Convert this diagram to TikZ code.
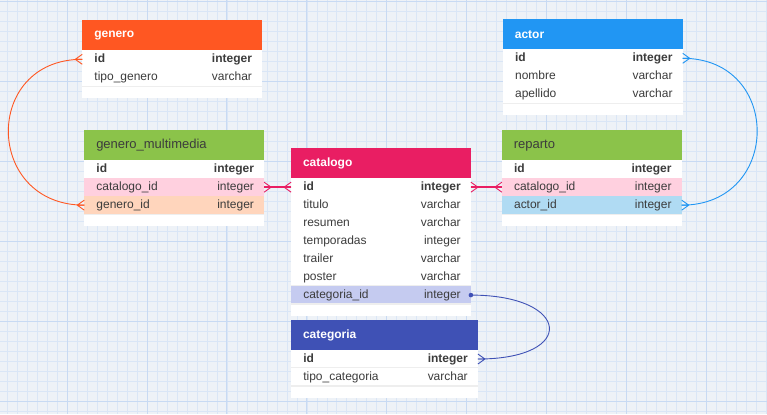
\documentclass[tikz,border=0pt]{standalone}
\usepackage{fontspec}
\setmainfont{Liberation Sans}
\usetikzlibrary{positioning}
\definecolor{gridbg}{RGB}{238,242,247}
\definecolor{gridminor}{RGB}{218,230,246}
\definecolor{gridmajor}{RGB}{200,218,243}
\definecolor{generoC}{RGB}{255,87,34}
\definecolor{generoL}{RGB}{255,213,188}
\definecolor{actorC}{RGB}{33,150,243}
\definecolor{actorL}{RGB}{176,219,243}
\definecolor{linkC}{RGB}{139,195,74}
\definecolor{catalogoC}{RGB}{233,30,99}
\definecolor{catalogoL}{RGB}{255,208,223}
\definecolor{categoriaC}{RGB}{63,81,181}
\definecolor{categoriaL}{RGB}{197,203,240}
\definecolor{fieldtxt}{RGB}{60,60,60}
\definecolor{sepC}{RGB}{238,238,238}

\tikzset{
  crowfoot/.pic={\draw[line width=0.9pt] (-7,0) -- (0,-5) (-7,0) -- (0,0) (-7,0) -- (0,5);}
}

\begin{document}
\begin{tikzpicture}[x=1pt, y=-1pt,
  hdr/.style={anchor=north west, text width=#1, align=left, inner xsep=12pt, inner ysep=0pt,
    minimum height=30pt, outer sep=0pt},
  hdrwhite/.style={text=white, font=\bfseries\fontsize{12}{14}\selectfont},
  hdrdark/.style={text=fieldtxt, font=\fontsize{13}{15}\selectfont},
  rowbox/.style={anchor=north west, minimum width=#1, minimum height=18pt, inner sep=0pt, outer sep=0pt},
  fname/.style={inner sep=0pt, text height=8.6pt, text depth=2.6pt, text=fieldtxt, font=\fontsize{12}{14}\selectfont},
  rowsep/.style={sepC, line width=1.2pt},
  link/.style={line width=0.9pt}]
  % background grid
  \fill[gridbg] (0,0) rectangle (767,414);
  \foreach \k in {0,...,76} \draw[gridminor, line width=0.5pt] ({\k*10+6.7},0) -- ({\k*10+6.7},414);
  \foreach \k in {0,...,41} \draw[gridminor, line width=0.5pt] (0,{\k*10+1}) -- (767,{\k*10+1});
  \foreach \k in {0,...,8} \draw[gridmajor, line width=0.7pt] ({\k*80+66.7},0) -- ({\k*80+66.7},414);
  \foreach \k in {0,...,5} \draw[gridmajor, line width=0.7pt] (0,{\k*80+1}) -- (767,{\k*80+1});
  \useasboundingbox (0,0) rectangle (767,414);

  % genero
  \node[hdr=156pt, fill=generoC, hdrwhite] (gen) at (82,20) {genero};
  \fill[white] (gen.south west) rectangle ++(180,48);
  \foreach \fld/\typ/\bg [count=\i] in {id/integer/white, tipo\_genero/varchar/white} {
    \node[rowbox=180pt, fill=\bg] (gen-\i) at ([yshift={-(\i-1)*18pt}]gen.south west) {};
    \draw[rowsep] (gen-\i.south west) -- (gen-\i.south east);
    \node[fname, right=12pt of gen-\i.west] (gen-\i-n) {\ifnum\i=1\bfseries\fi\fld};
    \node[fname, left=10pt of gen-\i.east] (gen-\i-t) {\ifnum\i=1\bfseries\fi\typ};
  }

  % genero_multimedia
  \node[hdr=156pt, fill=linkC, hdrdark] (gm) at (84,130) {genero\_multimedia};
  \fill[white] (gm.south west) rectangle ++(180,66);
  \foreach \fld/\typ/\bg [count=\i] in {id/integer/white, catalogo\_id/integer/catalogoL, genero\_id/integer/generoL} {
    \node[rowbox=180pt, fill=\bg] (gm-\i) at ([yshift={-(\i-1)*18pt}]gm.south west) {};
    \draw[rowsep] (gm-\i.south west) -- (gm-\i.south east);
    \node[fname, right=12pt of gm-\i.west] (gm-\i-n) {\ifnum\i=1\bfseries\fi\fld};
    \node[fname, left=10pt of gm-\i.east] (gm-\i-t) {\ifnum\i=1\bfseries\fi\typ};
  }

  % catalogo
  \node[hdr=156pt, fill=catalogoC, hdrwhite] (cat) at (291,148) {catalogo};
  \fill[white] (cat.south west) rectangle ++(180,138);
  \foreach \fld/\typ/\bg [count=\i] in {id/integer/white, titulo/varchar/white, resumen/varchar/white,
      temporadas/integer/white, trailer/varchar/white, poster/varchar/white, categoria\_id/integer/categoriaL} {
    \node[rowbox=180pt, fill=\bg] (cat-\i) at ([yshift={-(\i-1)*18pt}]cat.south west) {};
    \draw[rowsep] (cat-\i.south west) -- (cat-\i.south east);
    \node[fname, right=12pt of cat-\i.west] (cat-\i-n) {\ifnum\i=1\bfseries\fi\fld};
    \node[fname, left=10pt of cat-\i.east] (cat-\i-t) {\ifnum\i=1\bfseries\fi\typ};
  }

  % categoria
  \node[hdr=163pt, fill=categoriaC, hdrwhite] (ctg) at (291,320) {categoria};
  \fill[white] (ctg.south west) rectangle ++(187,48);
  \foreach \fld/\typ/\bg [count=\i] in {id/integer/white, tipo\_categoria/varchar/white} {
    \node[rowbox=187pt, fill=\bg] (ctg-\i) at ([yshift={-(\i-1)*18pt}]ctg.south west) {};
    \draw[rowsep] (ctg-\i.south west) -- (ctg-\i.south east);
    \node[fname, right=12pt of ctg-\i.west] (ctg-\i-n) {\ifnum\i=1\bfseries\fi\fld};
    \node[fname, left=10pt of ctg-\i.east] (ctg-\i-t) {\ifnum\i=1\bfseries\fi\typ};
  }

  % actor
  \node[hdr=156pt, fill=actorC, hdrwhite] (act) at (503,19) {actor};
  \fill[white] (act.south west) rectangle ++(180,66);
  \foreach \fld/\typ/\bg [count=\i] in {id/integer/white, nombre/varchar/white, apellido/varchar/white} {
    \node[rowbox=180pt, fill=\bg] (act-\i) at ([yshift={-(\i-1)*18pt}]act.south west) {};
    \draw[rowsep] (act-\i.south west) -- (act-\i.south east);
    \node[fname, right=12pt of act-\i.west] (act-\i-n) {\ifnum\i=1\bfseries\fi\fld};
    \node[fname, left=10pt of act-\i.east] (act-\i-t) {\ifnum\i=1\bfseries\fi\typ};
  }

  % reparto
  \node[hdr=156pt, fill=linkC, hdrdark] (rep) at (502,130) {reparto};
  \fill[white] (rep.south west) rectangle ++(180,66);
  \foreach \fld/\typ/\bg [count=\i] in {id/integer/white, catalogo\_id/integer/catalogoL, actor\_id/integer/actorL} {
    \node[rowbox=180pt, fill=\bg] (rep-\i) at ([yshift={-(\i-1)*18pt}]rep.south west) {};
    \draw[rowsep] (rep-\i.south west) -- (rep-\i.south east);
    \node[fname, right=12pt of rep-\i.west] (rep-\i-n) {\ifnum\i=1\bfseries\fi\fld};
    \node[fname, left=10pt of rep-\i.east] (rep-\i-t) {\ifnum\i=1\bfseries\fi\typ};
  }

  % relations
  \draw[link, generoC] (gen-1.west) .. controls +(-100,0) and +(-100,0) .. (gm-3.west);
  \pic[color=generoC] at (gen-1.west) {crowfoot};
  \pic[color=generoC] at (gm-3.west) {crowfoot};

  \draw[link, actorC] (act-1.east) .. controls +(100,0) and +(100,0) .. (rep-3.east);
  \pic[color=actorC, rotate=180] at (act-1.east) {crowfoot};
  \pic[color=actorC, rotate=180] at (rep-3.east) {crowfoot};

  \draw[link, categoriaC] (cat-7.east) .. controls +(100,0) and +(100,0) .. (ctg-1.east);
  \fill[categoriaC] (cat-7.east) circle (2.3pt);
  \pic[color=categoriaC, rotate=180] at (ctg-1.east) {crowfoot};

  \draw[catalogoC, line width=1.8pt] (gm-2.east) -- (cat-1.west);
  \pic[color=catalogoC, rotate=180] at (gm-2.east) {crowfoot};
  \pic[color=catalogoC] at (cat-1.west) {crowfoot};
  \draw[catalogoC, line width=1.8pt] (cat-1.east) -- (rep-2.west);
  \pic[color=catalogoC, rotate=180] at (cat-1.east) {crowfoot};
  \pic[color=catalogoC] at (rep-2.west) {crowfoot};
\end{tikzpicture}
\end{document}
